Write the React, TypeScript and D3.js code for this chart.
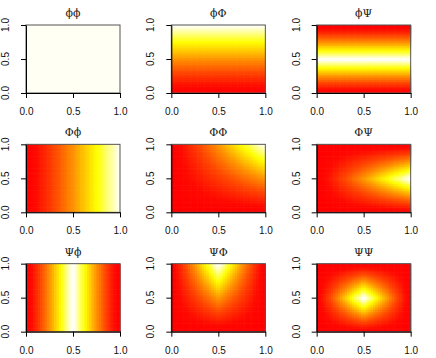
import React, { useRef, useEffect } from "react";
import * as d3 from "d3";

// panel titles: first letter = profile along x, second = profile along y
const panelTitles = ["ϕϕ", "ϕΦ", "ϕΨ", "Φϕ", "ΦΦ", "ΦΨ", "Ψϕ", "ΨΦ", "ΨΨ"];

// 1D profiles, 40 cells across [0, 1]
const phiProfile = [
  1, 1, 1, 1, 1, 1, 1, 1, 1, 1, 1, 1, 1, 1, 1, 1, 1, 1, 1, 1,
  1, 1, 1, 1, 1, 1, 1, 1, 1, 1, 1, 1, 1, 1, 1, 1, 1, 1, 1, 1,
];
const PhiProfile = [
  0.01, 0.04, 0.06, 0.09, 0.11, 0.14, 0.16, 0.19, 0.21, 0.24,
  0.26, 0.29, 0.31, 0.34, 0.36, 0.39, 0.41, 0.44, 0.46, 0.49,
  0.51, 0.54, 0.56, 0.59, 0.61, 0.64, 0.66, 0.69, 0.71, 0.74,
  0.76, 0.79, 0.81, 0.84, 0.86, 0.89, 0.91, 0.94, 0.96, 0.99,
];
const PsiProfile = [
  0.03, 0.08, 0.13, 0.18, 0.23, 0.28, 0.33, 0.38, 0.43, 0.48,
  0.53, 0.58, 0.63, 0.68, 0.73, 0.78, 0.83, 0.88, 0.93, 0.98,
  0.98, 0.93, 0.88, 0.83, 0.78, 0.73, 0.68, 0.63, 0.58, 0.53,
  0.48, 0.43, 0.38, 0.33, 0.28, 0.23, 0.18, 0.13, 0.08, 0.03,
];

const axisTicks = [0, 0.5, 1];

// colour ramp stops (red -> orange -> yellow -> pale)
const rampStops = [0, 0.1, 0.3, 0.5, 0.65, 0.76, 1];
const rampColors = ["#ff0000", "#ff0a00", "#ff4600", "#ff9100", "#ffd200", "#ffff00", "#fffff4"];

const profiles: Record<string, number[]> = {
  "ϕ": phiProfile,
  "Φ": PhiProfile,
  "Ψ": PsiProfile,
};

const W = 436;
const H = 358;

const App = () => {
  const svgRef = useRef<SVGSVGElement | null>(null);

  useEffect(() => {
    const svg = d3.select(svgRef.current);
    svg.selectAll("*").remove();

    const heat = d3.scaleLinear<string>().domain(rampStops).range(rampColors).clamp(true);

    const cellW = W / 3;
    const cellH = H / 3;

    panelTitles.forEach((title, k) => {
      const col = k % 3;
      const row = Math.floor(k / 3);
      const ox = col * cellW;
      const oy = row * cellH;
      const x0 = ox + 26;
      const x1 = ox + 120;
      const y0 = oy + 25;
      const y1 = oy + 93;

      const px = profiles[title[0]];
      const py = profiles[title[1]];

      const x = d3.scaleLinear().domain([0, 1]).range([x0, x1]);
      const y = d3.scaleLinear().domain([0, 1]).range([y1, y0]);
      const xb = d3.scaleBand<number>().domain(d3.range(px.length)).range([x0, x1]);
      const yb = d3.scaleBand<number>().domain(d3.range(py.length)).range([y1, y0]);

      const cells: { i: number; j: number; z: number }[] = [];
      px.forEach((a, i) => py.forEach((b, j) => cells.push({ i, j, z: a * b })));
      const [zmin, zmax] = d3.extent(cells, (d) => d.z) as [number, number];
      const norm = (z: number) => (zmax === zmin ? 1 : (z - zmin) / (zmax - zmin));

      const g = svg.append("g");

      g.selectAll("rect.cell")
        .data(cells)
        .enter()
        .append("rect")
        .attr("class", "cell")
        .attr("x", (d) => xb(d.i)!)
        .attr("y", (d) => yb(d.j)!)
        .attr("width", xb.bandwidth() + 0.6)
        .attr("height", yb.bandwidth() + 0.6)
        .attr("fill", (d) => heat(norm(d.z)));

      // box
      g.append("rect")
        .attr("x", x0)
        .attr("y", y0)
        .attr("width", x1 - x0)
        .attr("height", y1 - y0)
        .attr("fill", "none")
        .attr("stroke", "#555");

      // x axis
      const gx = g
        .append("g")
        .attr("transform", "translate(0," + y1 + ")")
        .call(d3.axisBottom(x).tickValues(axisTicks).tickSize(5).tickSizeOuter(0).tickFormat(d3.format(".1f")));
      gx.select(".domain").attr("stroke", "#000");
      gx.selectAll("text")
        .attr("font-family", "Liberation Sans, Arial, sans-serif")
        .attr("font-size", 10)
        .attr("fill", "#111")
        .attr("y", 15);

      // y axis
      const gy = g
        .append("g")
        .attr("transform", "translate(" + x0 + ",0)")
        .call(d3.axisLeft(y).tickValues(axisTicks).tickSize(5).tickSizeOuter(0));
      gy.select(".domain").attr("stroke", "#000");
      gy.selectAll("text").remove();

      g.selectAll("text.ylab")
        .data(axisTicks)
        .enter()
        .append("text")
        .attr("class", "ylab")
        .attr("transform", (d) => "translate(" + (ox + 5.5) + "," + y(d) + ") rotate(-90)")
        .attr("text-anchor", "middle")
        .attr("dominant-baseline", "central")
        .attr("font-family", "Liberation Sans, Arial, sans-serif")
        .attr("font-size", 10)
        .attr("fill", "#111")
        .text((d) => d3.format(".1f")(d));

      // title
      g.append("text")
        .attr("x", (x0 + x1) / 2)
        .attr("y", oy + 17)
        .attr("text-anchor", "middle")
        .attr("font-family", "DejaVu Serif, Liberation Serif, serif")
        .attr("font-size", 11)
        .attr("fill", "#222")
        .text(title);
    });
  }, []);

  return (
    <svg
      ref={svgRef}
      width={W}
      height={H}
      style={{ position: "absolute", left: 0, top: 0, background: "#fff" }}
    />
  );
};

export default App;
